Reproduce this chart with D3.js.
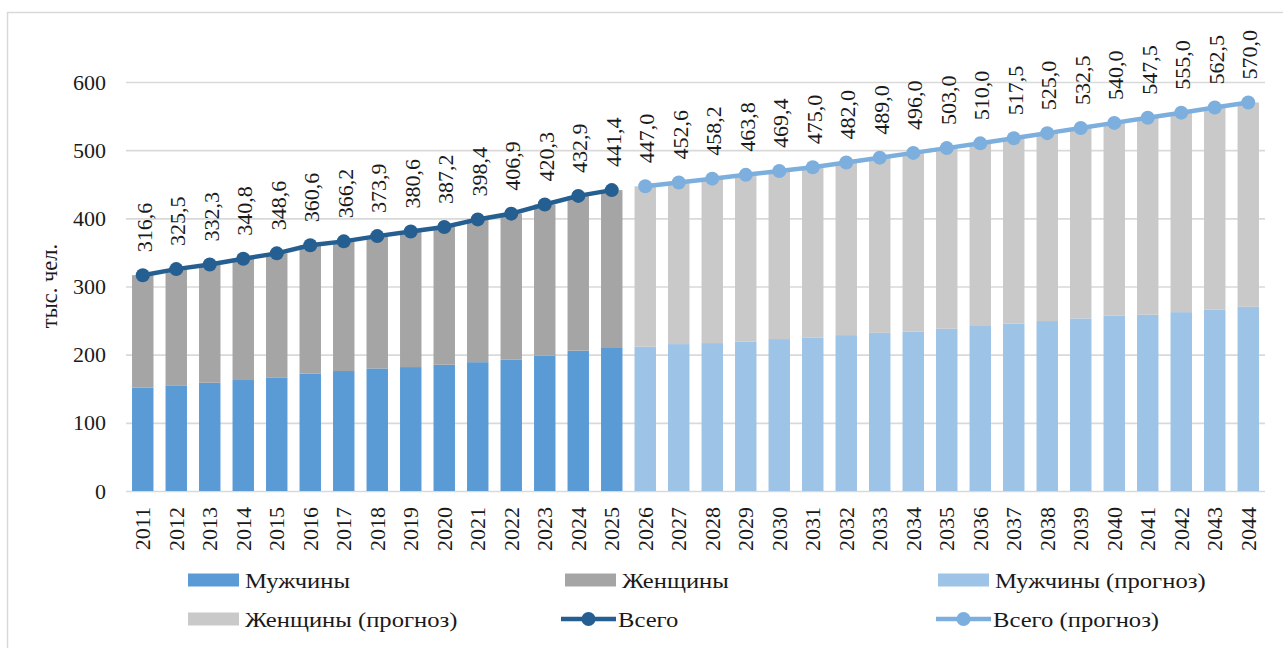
<!DOCTYPE html>
<html>
<head>
<meta charset="utf-8">
<script src="https://cdn.jsdelivr.net/npm/d3@7/dist/d3.min.js"></script>
<style>
  html, body { margin: 0; padding: 0; background: #fff; }
  svg { display: block; }
</style>
</head>
<body>
<svg id="chart" width="1283" height="648" font-family="Liberation Serif"></svg>
<script>
// ---- data ----
const yearsActual = [2011,2012,2013,2014,2015,2016,2017,2018,2019,2020,2021,2022,2023,2024,2025];
const yearsForecast = [2026,2027,2028,2029,2030,2031,2032,2033,2034,2035,2036,2037,2038,2039,2040,2041,2042,2043,2044];

const menActual = [151.5,155.0,158.8,162.8,166.7,172.0,176.0,179.8,181.8,185.2,189.0,193.0,198.4,205.8,209.8];
const womenActual = [165.1,170.5,173.5,178.0,181.9,188.6,190.2,194.1,198.8,202.0,209.4,213.9,221.9,227.1,231.6];
const totalActual = [316.6,325.5,332.3,340.8,348.6,360.6,366.2,373.9,380.6,387.2,398.4,406.9,420.3,432.9,441.4];

const menForecast = [211.6,215.5,217.0,219.0,222.9,225.3,228.7,232.0,234.0,238.0,242.0,245.4,249.3,253.2,257.0,258.5,262.4,266.4,270.2];
const womenForecast = [235.4,237.1,241.2,244.8,246.5,249.7,253.3,257.0,262.0,265.0,268.0,272.1,275.7,279.3,283.0,289.0,292.6,296.1,299.8];
const totalForecast = [447.0,452.6,458.2,463.8,469.4,475.0,482.0,489.0,496.0,503.0,510.0,517.5,525.0,532.5,540.0,547.5,555.0,562.5,570.0];

const yTicks = [0,100,200,300,400,500,600];
const yTitle = "тыс. чел.";
const legendLabels = ["Мужчины","Женщины","Мужчины (прогноз)","Женщины (прогноз)","Всего","Всего (прогноз)"];

// ---- styles ----
const FONT = "Liberation Serif";
const FS = 22;
const TXT = "#1a1a1a";
const C = {
  men: "#5b9bd5", women: "#a5a5a5", menF: "#9dc3e6", womenF: "#c9c9c9",
  total: "#255e91", totalF: "#7cafdd", grid: "#d9d9d9"
};

const svg = d3.select("#chart");
const years = yearsActual.concat(yearsForecast);

const x = d3.scaleBand().domain(years).range([126, 1265]).paddingInner(0.36).paddingOuter(0.18);
const y = d3.scaleLinear().domain([0, 600]).range([491, 82]);

// frame
svg.append("rect").attr("x", 7.5).attr("y", 12.5).attr("width", 1290).attr("height", 650)
  .attr("fill", "none").attr("stroke", C.grid).attr("stroke-width", 1.5);

// grid + y axis
const yAxis = d3.axisLeft(y).tickValues(yTicks).tickSize(-(1265 - 126)).tickPadding(20).tickFormat(d3.format("d"));
const gy = svg.append("g").attr("transform", "translate(126,0)").call(yAxis)
  .attr("font-family", FONT).attr("font-size", FS);
gy.select(".domain").remove();
gy.selectAll(".tick line").attr("stroke", C.grid).attr("stroke-width", 1.6);
gy.selectAll(".tick text").attr("fill", TXT);

svg.append("text").attr("transform", "translate(57,286) rotate(-90)")
  .attr("text-anchor", "middle").attr("font-family", FONT).attr("font-size", FS + 0.5).attr("fill", TXT).text(yTitle);

// x axis
const xAxis = d3.axisBottom(x).tickSize(0).tickPadding(0);
const gx = svg.append("g").attr("transform", "translate(0,491)").call(xAxis)
  .attr("font-family", FONT).attr("font-size", FS);
gx.select(".domain").remove();
gx.selectAll(".tick text")
  .attr("transform", "rotate(-90)")
  .attr("text-anchor", "end")
  .attr("x", -16).attr("y", 0).attr("dy", "0.35em")
  .attr("fill", TXT);

// bars
function drawStack(ys, men, women, cMen, cWomen) {
  const g = svg.append("g");
  g.selectAll("rect.m").data(ys).join("rect")
    .attr("x", d => x(d)).attr("width", x.bandwidth())
    .attr("y", (d, i) => y(men[i])).attr("height", (d, i) => y(0) - y(men[i]))
    .attr("fill", cMen);
  g.selectAll("rect.w").data(ys).join("rect")
    .attr("x", d => x(d)).attr("width", x.bandwidth())
    .attr("y", (d, i) => y(men[i] + women[i])).attr("height", (d, i) => y(men[i]) - y(men[i] + women[i]))
    .attr("fill", cWomen);
}
drawStack(yearsActual, menActual, womenActual, C.men, C.women);
drawStack(yearsForecast, menForecast, womenForecast, C.menF, C.womenF);

// lines
const fmt = v => d3.format(".1f")(v).replace(".", ",");
function drawLine(ys, tot, color) {
  const pts = ys.map((d, i) => [x(d) + x.bandwidth() / 2, y(tot[i])]);
  svg.append("path").attr("d", d3.line()(pts)).attr("fill", "none")
    .attr("stroke", color).attr("stroke-width", 4.5).attr("stroke-linejoin", "round");
  svg.append("g").selectAll("circle").data(pts).join("circle")
    .attr("cx", p => p[0]).attr("cy", p => p[1]).attr("r", 7).attr("fill", color);
  svg.append("g").attr("font-family", FONT).attr("font-size", FS)
    .selectAll("text").data(pts).join("text")
    .attr("transform", p => `translate(${p[0] + 1.5},${p[1] - 23}) rotate(-90)`)
    .attr("text-anchor", "start").attr("dy", "0.35em").attr("fill", TXT)
    .text((p, i) => fmt(tot[i]));
}
drawLine(yearsActual, totalActual, C.total);
drawLine(yearsForecast, totalForecast, C.totalF);

// legend
const legendItems = [
  { label: legendLabels[0], type: "rect", color: C.men, x: 188, y: 580 },
  { label: legendLabels[1], type: "rect", color: C.women, x: 565, y: 580 },
  { label: legendLabels[2], type: "rect", color: C.menF, x: 938, y: 580 },
  { label: legendLabels[3], type: "rect", color: C.womenF, x: 188, y: 619 },
  { label: legendLabels[4], type: "line", color: C.total, x: 561, y: 619 },
  { label: legendLabels[5], type: "line", color: C.totalF, x: 936, y: 619 }
];
const lg = svg.append("g").attr("font-family", FONT).attr("font-size", FS);
legendItems.forEach(it => {
  if (it.type === "rect") {
    lg.append("rect").attr("x", it.x).attr("y", it.y - 6.5).attr("width", 51).attr("height", 13).attr("fill", it.color);
  } else {
    lg.append("line").attr("x1", it.x).attr("x2", it.x + 55).attr("y1", it.y).attr("y2", it.y)
      .attr("stroke", it.color).attr("stroke-width", 4.5);
    lg.append("circle").attr("cx", it.x + 27.5).attr("cy", it.y).attr("r", 7).attr("fill", it.color);
  }
  lg.append("text").attr("transform", `translate(${it.x + 57},${it.y}) scale(1.12,1)`)
    .attr("dy", "0.35em").attr("fill", TXT)
    .text(it.label);
});
</script>
</body>
</html>
